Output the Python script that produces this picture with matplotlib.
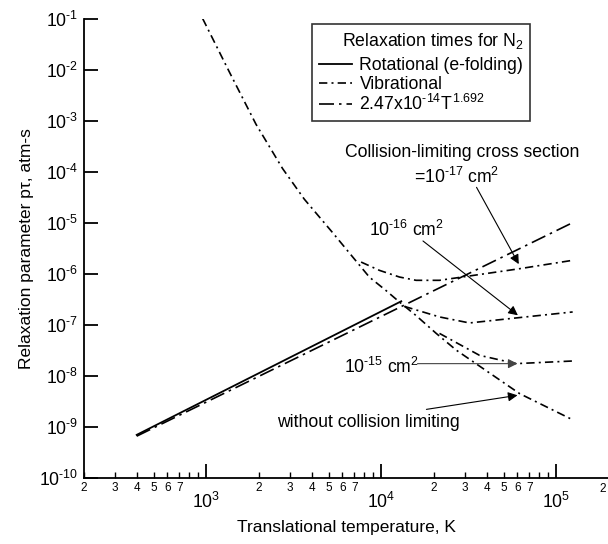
import matplotlib
matplotlib.use('Agg')
import matplotlib.pyplot as plt
from matplotlib.ticker import FixedLocator, FixedFormatter, NullLocator

plt.rcParams['font.family'] = ['Liberation Sans', 'DejaVu Sans']
plt.rcParams['mathtext.fontset'] = 'custom'
plt.rcParams['mathtext.rm'] = 'Liberation Sans'
plt.rcParams['mathtext.it'] = 'Liberation Sans'

# values (T in K, p*tau in atm-s)
rot_T = [400, 13000]
rot_v = [7.0e-10, 2.9e-7]

fit_T = [400, 125000]
fit_v = [6.6e-10, 1.02e-5]

vib_T = [953, 1354, 1923, 2729, 3630, 5270, 6860, 8550, 10600, 12700, 15800, 20600, 26800, 61700, 120000]
vib_v = [1e-1, 9e-3, 8.5e-4, 1.15e-4, 2.9e-5, 6.4e-6, 2.14e-6, 8.6e-7, 4.75e-7, 2.8e-7, 1.52e-7, 6.8e-8, 3.2e-8, 4.5e-9, 1.46e-9]

cs17_T = [7665, 9750, 12700, 15800, 21500, 61700, 124000]
cs17_v = [1.7e-6, 1.17e-6, 8.65e-7, 7.46e-7, 7.46e-7, 1.26e-6, 1.84e-6]

cs16_T = [13550, 21500, 31900, 61700, 124000]
cs16_v = [2.3e-7, 1.43e-7, 1.09e-7, 1.39e-7, 1.79e-7]

cs15_T = [21500, 36400, 59000, 124000]
cs15_v = [6.8e-8, 2.53e-8, 1.74e-8, 1.96e-8]

y_ticks = [10.0 ** -k for k in range(1, 11)]
y_labels = ['$10^{\\text{-}%d}$' % k for k in range(1, 11)]
x_major = [1e3, 1e4, 1e5]
x_major_labels = ['$10^{3}$', '$10^{4}$', '$10^{5}$']

fs = 12.7

fig = plt.figure(figsize=(6.08, 5.44), dpi=100)
ax = fig.add_axes([84 / 608, 66 / 544, 525 / 608, 459.4 / 544])

vib_dash = (5, 2.5, 1.2, 2.5)
fit_dash = (9, 3, 1.5, 3)

ax.plot(rot_T, rot_v, color='k', lw=1.3, label='Rotational (e-folding)')
ax.plot(vib_T, vib_v, color='k', lw=1.2, dashes=vib_dash, label='Vibrational')
ax.plot(fit_T, fit_v, color='k', lw=1.2, dashes=fit_dash,
        label='$2.47\\text{x}10^{\\text{-}14}T^{1.692}$')
ax.plot(cs17_T, cs17_v, color='k', lw=1.2, dashes=vib_dash)
ax.plot(cs16_T, cs16_v, color='k', lw=1.2, dashes=vib_dash)
ax.plot(cs15_T, cs15_v, color='k', lw=1.2, dashes=vib_dash)

ax.set_xscale('log')
ax.set_yscale('log')
ax.set_xlim(200, 2e5)
ax.set_ylim(1e-10, 1e-1)

ax.spines['top'].set_visible(False)
ax.spines['right'].set_visible(False)
ax.spines['left'].set_linewidth(1.3)
ax.spines['bottom'].set_linewidth(1.3)

ax.yaxis.set_major_locator(FixedLocator(y_ticks))
ax.yaxis.set_major_formatter(FixedFormatter(y_labels))
ax.yaxis.set_minor_locator(NullLocator())
ax.tick_params(axis='y', which='major', direction='in', length=10, width=1.3, labelsize=fs, pad=4)

ax.xaxis.set_major_locator(FixedLocator(x_major))
ax.xaxis.set_major_formatter(FixedFormatter(x_major_labels))
minor_pos = []
minor_lab = []
for d in [100, 1000, 10000, 100000]:
    for m in range(2, 10):
        minor_pos.append(m * d)
        minor_lab.append(str(m) if m <= 7 and m * d < 2e5 else '')
ax.xaxis.set_minor_locator(FixedLocator(minor_pos))
ax.xaxis.set_minor_formatter(FixedFormatter(minor_lab))
ax.tick_params(axis='x', which='major', direction='in', length=10, width=1.3, labelsize=fs, pad=10)
ax.tick_params(axis='x', which='minor', direction='in', length=4.5, width=1.0, labelsize=8.5, pad=3)
# the 2x10^5 label sits on the right edge, nudge it inside
fig.text(603 / 608, 1 - 489 / 544, '2', fontsize=8.5, ha='center', va='center')

ax.set_xlabel('Translational temperature, K', fontsize=12.5, labelpad=6)
ax.set_ylabel('Relaxation parameter p\u03c4, atm-s', fontsize=12.5, labelpad=4)

leg = ax.legend(loc='upper left', bbox_to_anchor=(0.434, 0.988), fontsize=fs,
                title='Relaxation times for N$_2$', title_fontsize=fs,
                frameon=True, fancybox=False, edgecolor='k', handlelength=1.9,
                handletextpad=0.4, borderpad=0.4, labelspacing=0.08, borderaxespad=0)
leg.get_frame().set_linewidth(1.2)
leg._legend_box.align = 'right'
leg._legend_box.sep = 4.5

arrow = dict(arrowstyle='-|>', color='k', lw=0.8, mutation_scale=14, shrinkA=0, shrinkB=0)

ax.text(2.91e4, 2.4e-4, 'Collision-limiting cross section', ha='center', va='center', fontsize=fs)
ax.text(2.68e4, 7.8e-5, '$\\text{=}10^{\\text{-}17}$ cm$^2$', ha='center', va='center', fontsize=fs)
ax.annotate('', xy=(6.1e4, 1.55e-6), xytext=(3.5e4, 4.95e-5), arrowprops=arrow)

ax.text(1.39e4, 7.2e-6, '$10^{\\text{-}16}$ cm$^2$', ha='center', va='center', fontsize=fs)
ax.annotate('', xy=(6.03e4, 1.54e-7), xytext=(1.73e4, 4.4e-6), arrowprops=arrow)

ax.text(1.0e4, 1.47e-8, '$10^{\\text{-}15}$ cm$^2$', ha='center', va='center', fontsize=fs)
ax.annotate('', xy=(6.0e4, 1.74e-8), xytext=(1.61e4, 1.74e-8),
            arrowprops=dict(arrow, color='#444444'))

ax.text(2547, 1.25e-9, 'without collision limiting', ha='left', va='center', fontsize=fs)
ax.annotate('', xy=(6.0e4, 4.17e-9), xytext=(1.81e4, 2.21e-9), arrowprops=arrow)

fig.savefig('out.png', dpi=100)
